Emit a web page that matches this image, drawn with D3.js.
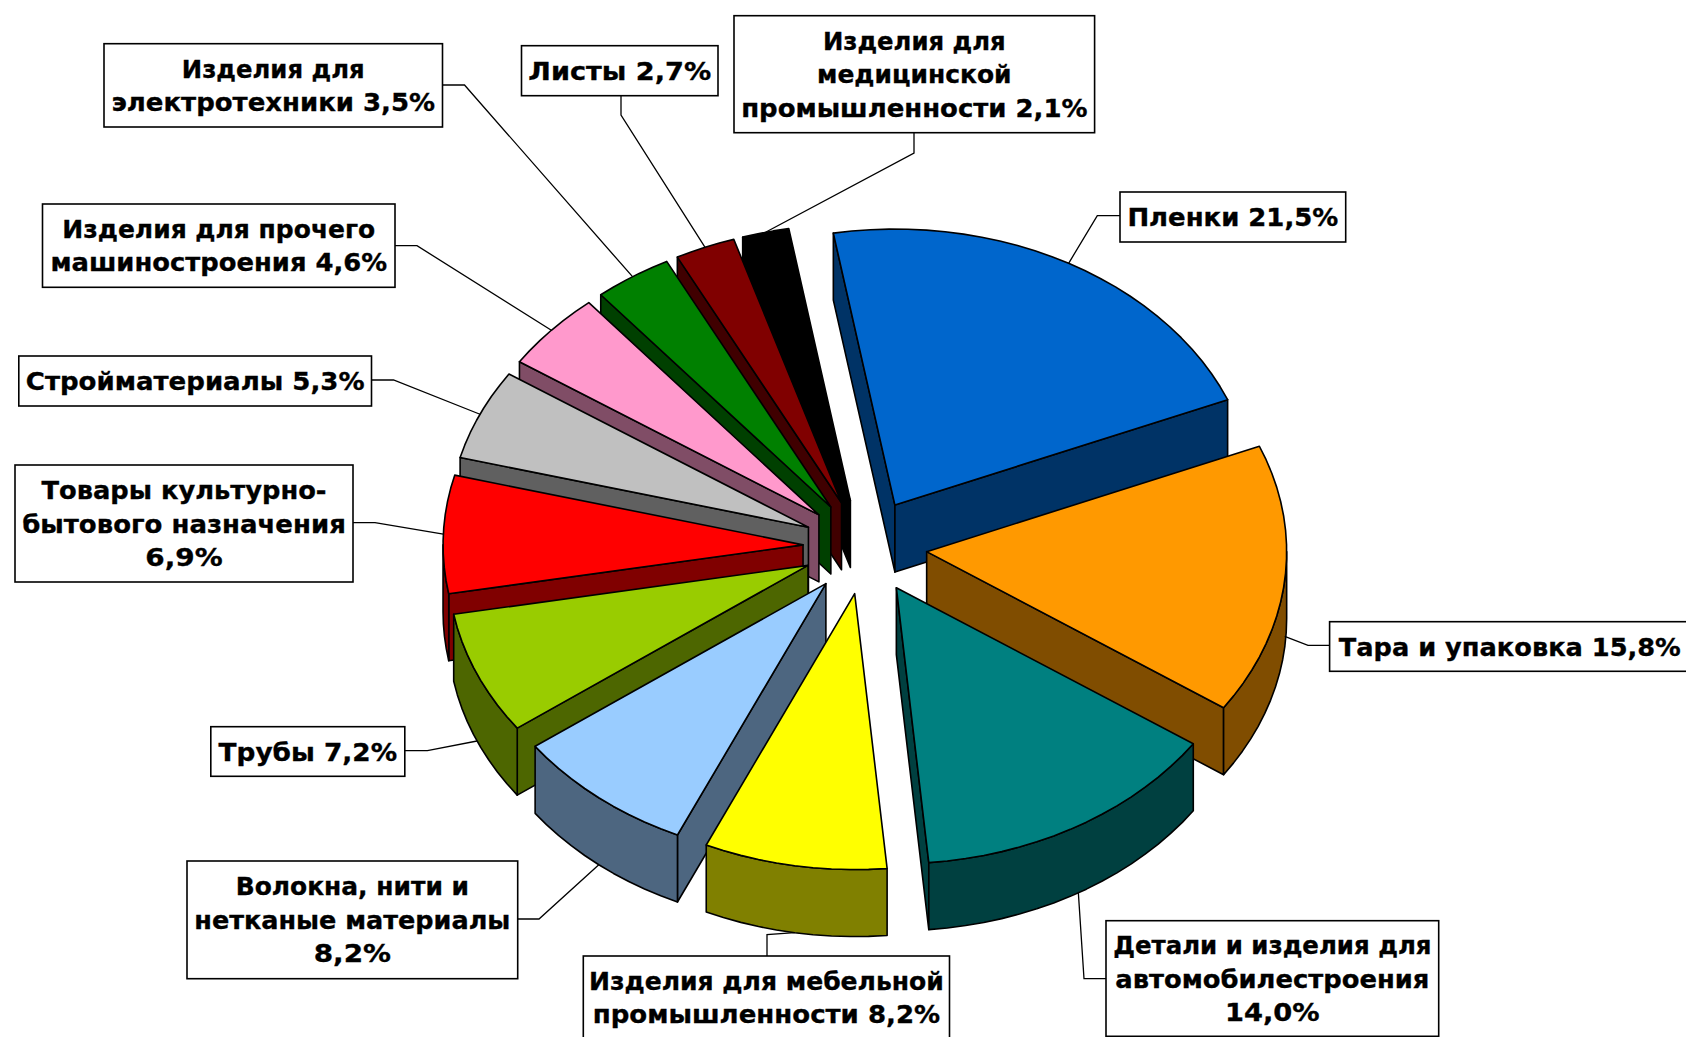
<!DOCTYPE html>
<html lang="ru">
<head>
<meta charset="utf-8">
<style>html,body{margin:0;padding:0;background:#fff;overflow:hidden}svg{display:block}</style>
<script src="https://cdn.jsdelivr.net/npm/d3@7/dist/d3.min.js"></script>
</head>
<body>
<svg id="chart" width="1686" height="1037"></svg>
<script>
const categories = ["Пленки","Тара и упаковка","Детали и изделия для автомобилестроения","Изделия для мебельной промышленности","Волокна, нити и нетканые материалы","Трубы","Товары культурно-бытового назначения","Стройматериалы","Изделия для прочего машиностроения","Изделия для электротехники","Листы","Изделия для медицинской промышленности"];
const values = [21.5,15.8,14.0,8.2,8.2,7.2,6.9,5.3,4.6,3.5,2.7,2.1];
const colors = ["#0066CC","#FF9900","#008080","#FFFF00","#99CCFF","#99CC00","#FF0000","#C0C0C0","#FF99CC","#008000","#800000","#000000"];
const labelLines = [
  ["Пленки 21,5%"],
  ["Тара и упаковка 15,8%"],
  ["Детали и изделия для","автомобилестроения","14,0%"],
  ["Изделия для мебельной","промышленности 8,2%"],
  ["Волокна, нити и","нетканые материалы","8,2%"],
  ["Трубы 7,2%"],
  ["Товары культурно-","бытового назначения","6,9%"],
  ["Стройматериалы 5,3%"],
  ["Изделия для прочего","машиностроения 4,6%"],
  ["Изделия для","электротехники 3,5%"],
  ["Листы 2,7%"],
  ["Изделия для","медицинской","промышленности 2,1%"]
];
// rendered width of every label line, same shape as labelLines
const lineWidths = [
  [210.8],[342],[318.3,314,94.6],[354.9,347.3],[233.3,316.1,77.4],[178.5],
  [285,323.7,77.4],[338.7],[312.9,336.6],[182.8,323.7],[182.8],[182.8,194.6,346.3]
];
// label boxes: [left, top, right, bottom]
const boxes = [
  [1120,192,1345.7,242],[1329.6,621.7,1690,671.3],[1106,920.7,1438.7,1036.3],[583.3,956,949.5,1039.4],
  [187,861,517.7,978.7],[210.8,726.7,404.8,776.3],[15,465,353,582],[18.8,356,371.5,406],
  [42.5,204,395,287.3],[104,43.7,442.5,127],[521.5,45.7,718,95.7],[734,15.7,1094.6,132.7]
];
// leader lines: start on the box edge, then the elbow: [startX,startY,elbowX,elbowY]
const leaders = [
  [1120,215.7,1097.3,215.7],[1329.6,645.3,1308,645.3],[1106,978.7,1084,978.7],[767,956,767,934.7],
  [517.7,919,539,919],[404.8,750.7,427.4,750.7],[353,522.7,375,522.7],[371.5,380,393.5,380],
  [395,245.7,417,245.7],[442.5,85,464.5,85],[621,95.7,621,115],[914,132.7,914,153]
];

const cx = 865, cy = 546.7, rx = 360, ry = 276, depth = 67, pull = 62 / 360;
const startDeg = -9.85;
const rad = d => d * Math.PI / 180;

const pie = d3.pie().sort(null).startAngle(rad(startDeg)).endAngle(rad(startDeg + 360));
const arcs = pie(values);
const px = d3.scaleLinear().domain([-1, 1]).range([cx - rx, cx + rx]);
const py = d3.scaleLinear().domain([-1, 1]).range([cy + ry, cy - ry]);

const svg = d3.select("#chart");
const line = d3.line();
const strokeW = 1.6;

function shade(c) {
  const k = d3.rgb(c);
  return d3.rgb(k.r / 2, k.g / 2, k.b / 2).formatHex();
}
const midAngle = a => (a.startAngle + a.endAngle) / 2;
function apex(a) {
  const m = midAngle(a);
  return [px(pull * Math.sin(m)), py(pull * Math.cos(m))];
}
function rim(a, ang) {
  const [ax, ay] = apex(a);
  return [ax + px(Math.sin(ang)) - cx, ay + py(Math.cos(ang)) - cy];
}
function sample(a0, a1) {
  const n = Math.max(2, Math.ceil((a1 - a0) / rad(3)));
  return d3.range(n + 1).map(i => a0 + (a1 - a0) * i / n);
}
const down = p => [p[0], p[1] + depth];

// back slices first, front slices last
const paintOrder = d3.range(arcs.length).sort((p, q) => Math.cos(midAngle(arcs[q])) - Math.cos(midAngle(arcs[p])));

paintOrder.forEach(i => {
  const a = arcs[i], g = svg.append("g").attr("class", "slice");
  const dark = shade(colors[i]);
  const A = apex(a), P0 = rim(a, a.startAngle), P1 = rim(a, a.endAngle);
  const wall = pts => g.append("path").attr("d", line(pts) + "Z")
    .attr("fill", dark).attr("stroke", "#000").attr("stroke-width", strokeW).attr("stroke-linejoin", "round");
  if (Math.sin(a.startAngle) < 0) wall([A, P0, down(P0), down(A)]);
  if (Math.sin(a.endAngle) > 0) wall([A, P1, down(P1), down(A)]);
  const f0 = Math.max(a.startAngle, rad(90)), f1 = Math.min(a.endAngle, rad(270));
  if (f1 > f0) {
    const top = sample(f0, f1).map(t => rim(a, t));
    wall(top.concat(top.slice().reverse().map(down)));
  }
  g.append("path")
    .attr("d", line([A].concat(sample(a.startAngle, a.endAngle).map(t => rim(a, t)))) + "Z")
    .attr("fill", colors[i]).attr("stroke", "#000").attr("stroke-width", strokeW).attr("stroke-linejoin", "round");
});

// leader lines run from the box to the rim at the slice's middle angle
arcs.forEach((a, i) => {
  const m = midAngle(a);
  const r = rim(a, m);
  const drop = Math.cos(m) < 0 ? depth * Math.min(1, -Math.cos(m) * 8) : 0;
  const l = leaders[i];
  svg.append("path").attr("class", "leader")
    .attr("d", line([[l[0], l[1]], [l[2], l[3]], [r[0], r[1] + drop]]))
    .attr("fill", "none").attr("stroke", "#000").attr("stroke-width", 1.3);
});

const fontSize = 25.5, lineH = 33.4, capH = 18;
categories.forEach((c, i) => {
  const b = boxes[i], g = svg.append("g").attr("class", "label");
  g.append("rect").attr("x", b[0]).attr("y", b[1]).attr("width", b[2] - b[0]).attr("height", b[3] - b[1])
    .attr("fill", "#fff").attr("stroke", "#000").attr("stroke-width", 1.6);
  const mx = (b[0] + b[2]) / 2, my = (b[1] + b[3]) / 2, n = labelLines[i].length;
  labelLines[i].forEach((t, j) => {
    g.append("text").attr("x", mx).attr("y", my + (j - (n - 1) / 2) * lineH + capH / 2)
      .attr("text-anchor", "middle")
      .attr("textLength", lineWidths[i][j]).attr("lengthAdjust", "spacingAndGlyphs")
      .style("font-family", "'DejaVu Sans', Verdana, sans-serif")
      .style("font-weight", "700").style("font-size", fontSize + "px")
      .attr("fill", "#000").attr("stroke", "#000").attr("stroke-width", 0.35).text(t);
  });
});
</script>
</body>
</html>
